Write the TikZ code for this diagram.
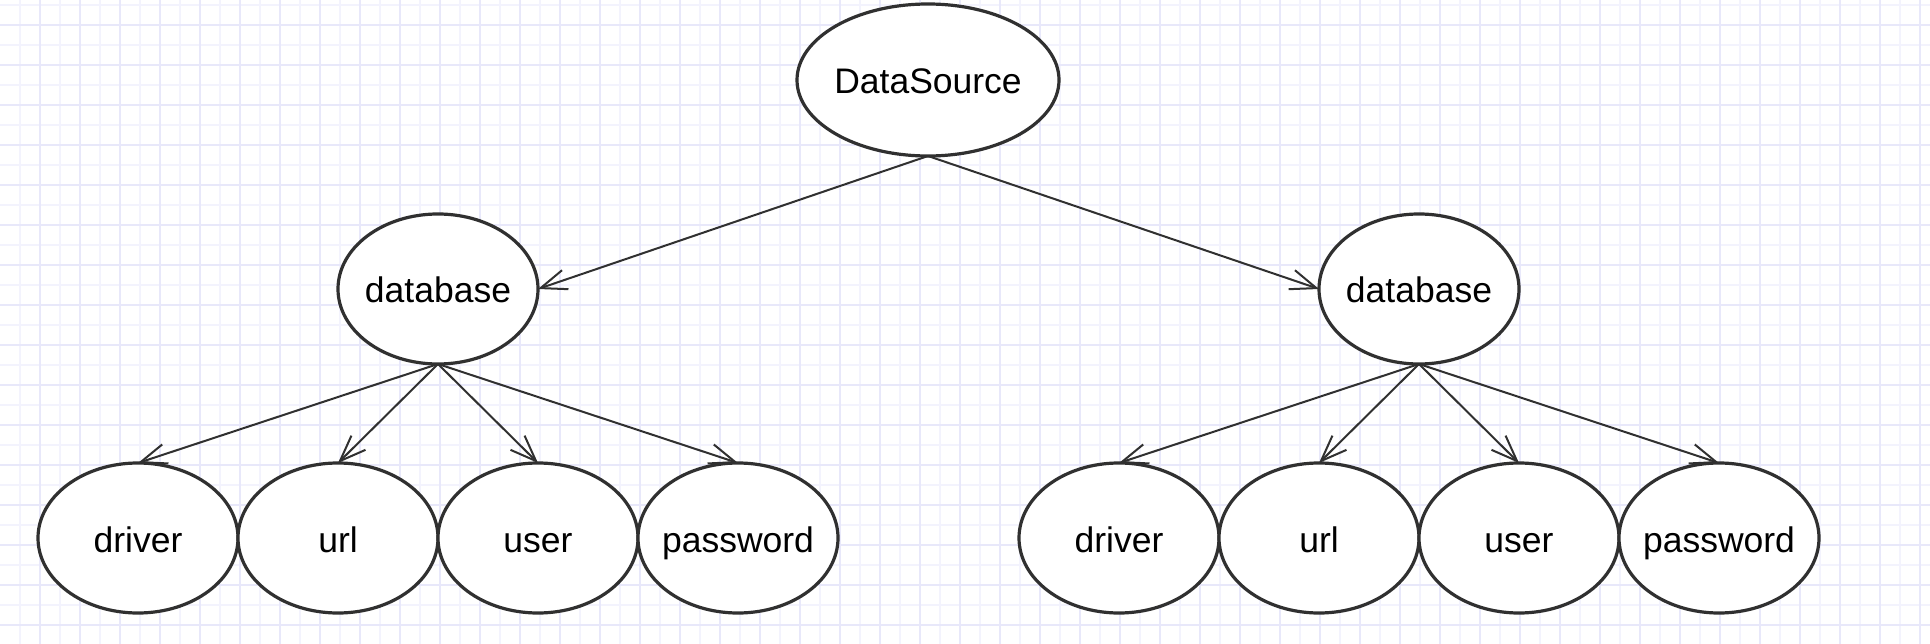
\documentclass[tikz,border=0pt]{standalone}
\usepackage{fontspec}
\setmainfont{Liberation Sans}
\usetikzlibrary{positioning,shapes.geometric,arrows.meta}
\definecolor{gridminor}{HTML}{F3F3FD}
\definecolor{gridmajor}{HTML}{E8E8FA}
\definecolor{ink}{HTML}{303030}

\begin{document}
\begin{tikzpicture}
[x=1pt,y=-1pt,
 every node/.style={ellipse,draw=ink,line width=3.2pt,fill=white,minimum width=200pt,minimum height=150pt,
   inner xsep=-12pt,inner ysep=0pt,outer sep=0pt,text height=31pt,text depth=3pt,
   font=\fontsize{35.5}{40}\selectfont},
 root/.style={minimum width=262pt,minimum height=152pt},
 arr/.style={-{Straight Barb[length=26pt,width=20pt]},color=ink,line width=2pt},
 minor/.style={gridminor,line width=2pt},
 major/.style={gridmajor,line width=2pt}]
\fill[white] (0,0) rectangle (1930,644);
\useasboundingbox (0,0) rectangle (1930,644);
\foreach \x in {19.5,59.5,...,1930} \draw[minor] (\x,0) -- (\x,644);
\foreach \y in {5,45,...,644}       \draw[minor] (0,\y) -- (1930,\y);
\foreach \x in {39.5,79.5,...,1930} \draw[major] (\x,0) -- (\x,644);
\foreach \y in {25,65,...,644}      \draw[major] (0,\y) -- (1930,\y);

\node[root] (ds) at (928,80) {DataSource};
\node (dbL) [on grid,below  left=209pt and 490pt of ds] {database};
\node (dbR) [on grid,below right=209pt and 491pt of ds] {database};
\node (drvL) [on grid,below  left=249pt and 300pt of dbL] {driver};
\node (urlL) [on grid,below  left=249pt and 100pt of dbL] {url};
\node (usrL) [on grid,below right=249pt and 100pt of dbL] {user};
\node (pwdL) [on grid,below right=249pt and 300pt of dbL] {password};
\node (drvR) [on grid,below  left=249pt and 300pt of dbR] {driver};
\node (urlR) [on grid,below  left=249pt and 100pt of dbR] {url};
\node (usrR) [on grid,below right=249pt and 100pt of dbR] {user};
\node (pwdR) [on grid,below right=249pt and 300pt of dbR] {password};
\path[arr] (ds.south)  edge (dbL.east);
\path[arr] (ds.south)  edge (dbR.west);
\path[arr] (dbL.south) edge (drvL.north);
\path[arr] (dbL.south) edge (urlL.north);
\path[arr] (dbL.south) edge (usrL.north);
\path[arr] (dbL.south) edge (pwdL.north);
\path[arr] (dbR.south) edge (drvR.north);
\path[arr] (dbR.south) edge (urlR.north);
\path[arr] (dbR.south) edge (usrR.north);
\path[arr] (dbR.south) edge (pwdR.north);
\end{tikzpicture}
\end{document}
